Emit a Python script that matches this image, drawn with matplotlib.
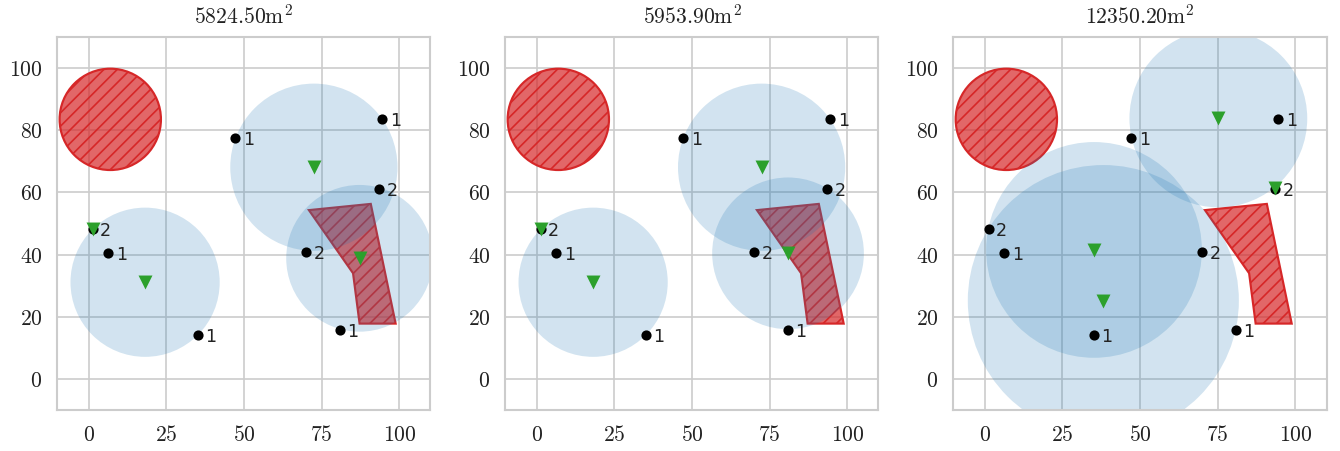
import numpy as np
import matplotlib
matplotlib.use("Agg")
import matplotlib.pyplot as plt
from matplotlib.patches import Circle, Polygon
from matplotlib.ticker import FuncFormatter

# demand points (same in every panel) and their labels
pts_x = [47.2, 94.5, 93.5, 70.0, 80.9, 6.4, 35.1, 1.3]
pts_y = [77.6, 83.5, 61.1, 40.8, 15.8, 40.4, 14.0, 48.2]
pts_lab = ["1", "1", "2", "2", "1", "1", "1", "2"]

# obstacles
obs_circle_xy = (7.0, 83.5)
obs_circle_r = 16.3
obs_poly_x = [70.9, 90.8, 98.8, 87.2, 85.1]
obs_poly_y = [54.3, 56.3, 17.8, 17.8, 34.0]

# facilities per panel: centres and coverage radii (0 = no circle)
titles = [r"$5824.50\mathrm{m}^2$", r"$5953.90\mathrm{m}^2$", r"$12350.20\mathrm{m}^2$"]
fac_x = [[1.3, 18.2, 72.5, 87.2], [1.3, 18.2, 72.4, 80.9], [75.2, 93.3, 35.2, 38.2]]
fac_y = [[48.3, 31.1, 68.1, 38.8], [48.3, 31.1, 68.1, 40.4], [83.8, 61.5, 41.5, 25.2]]
fac_r = [[0.0, 24.0, 26.9, 23.6], [0.0, 24.0, 26.9, 24.4], [28.6, 0.0, 34.7, 43.6]]

red = "#d62728"
plt.rcParams.update({"mathtext.fontset": "cm", "hatch.linewidth": 1.0})

fig, axes = plt.subplots(1, 3, figsize=(1340 / 120, 451 / 120), dpi=120)
fig.subplots_adjust(left=0.0425, right=0.9903, bottom=0.0909, top=0.918, wspace=0.198)

for k, ax in enumerate(axes):
    ax.set_axisbelow(True)
    ax.grid(True, color="#cccccc", lw=1.0)
    for s in ax.spines.values():
        s.set_color("#cccccc")
        s.set_linewidth(1.25)

    ax.add_patch(Circle(obs_circle_xy, obs_circle_r, facecolor=(214 / 255, 39 / 255, 40 / 255, 0.7),
                        edgecolor=red, lw=1.3, hatch="///", zorder=1))
    ax.add_patch(Polygon(np.column_stack([obs_poly_x, obs_poly_y]), closed=True,
                         facecolor=(214 / 255, 39 / 255, 40 / 255, 0.7),
                         edgecolor=red, lw=1.3, hatch="///", zorder=1))

    for x, y, r in zip(fac_x[k], fac_y[k], fac_r[k]):
        if r > 0:
            ax.add_patch(Circle((x, y), r, facecolor="#1f77b4", alpha=0.2, lw=0, zorder=2))

    ax.scatter(pts_x, pts_y, s=26, color="black", zorder=3)
    for x, y, t in zip(pts_x, pts_y, pts_lab):
        ax.annotate(t, (x, y), xytext=(4.5, 0), textcoords="offset points",
                    ha="left", va="center_baseline", fontsize=10.5, color="#222222", zorder=5)
    ax.scatter(fac_x[k], fac_y[k], marker="v", s=70, color="#2ca02c", lw=0, zorder=4)

    ax.set_xlim(-10, 110)
    ax.set_ylim(-10, 110)
    ax.set_aspect("equal")
    ax.set_xticks([0, 25, 50, 75, 100])
    ax.set_yticks([0, 20, 40, 60, 80, 100])
    fmt = FuncFormatter(lambda v, _: f"${v:.0f}$")
    ax.xaxis.set_major_formatter(fmt)
    ax.yaxis.set_major_formatter(fmt)
    ax.tick_params(length=0, pad=9, labelsize=13, colors="#222222")
    ax.set_title(titles[k], fontsize=13, pad=8, color="#222222")

fig.savefig("out.png", dpi=120)
